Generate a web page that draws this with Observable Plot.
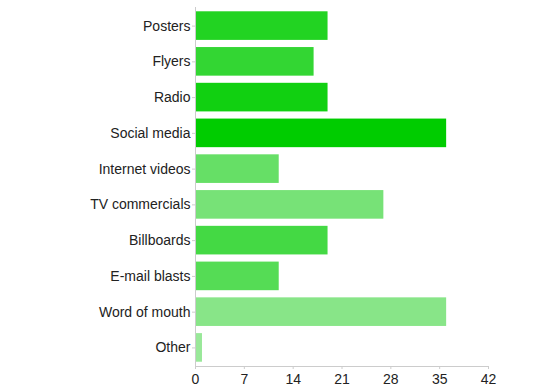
<!DOCTYPE html>
<html>
<head>
<meta charset="utf-8">
<script src="https://cdn.jsdelivr.net/npm/d3@7"></script>
<script src="https://cdn.jsdelivr.net/npm/@observablehq/plot@0.6"></script>
<style>
  html, body { margin: 0; padding: 0; background: #fff; }
  #chart svg { display: block; }
</style>
</head>
<body>
<div id="chart"></div>
<script>
const categories = ["Posters", "Flyers", "Radio", "Social media", "Internet videos", "TV commercials", "Billboards", "E-mail blasts", "Word of mouth", "Other"];
const counts = [19, 17, 19, 36, 12, 27, 19, 12, 36, 1];
const barColors = ["#22d322", "#33d633", "#11d011", "#00cc00", "#66df66", "#77e277", "#44d944", "#55dc55", "#88e588", "#99e899"];
const xTicks = [0, 7, 14, 21, 28, 35, 42];

const data = categories.map((c, i) => ({category: c, count: counts[i], color: barColors[i]}));

const chart = Plot.plot({
  width: 541,
  height: 392,
  marginLeft: 195,
  marginRight: 53,
  marginTop: 7,
  marginBottom: 26,
  style: {fontFamily: "'Liberation Sans', Arial, sans-serif", fontSize: "14px", color: "#222", background: "#fff"},
  x: {domain: [0, 42], ticks: xTicks, label: null},
  y: {domain: categories, label: null, paddingInner: 0.2, paddingOuter: 0.12, round: false},
  color: {type: "identity"},
  marks: [
    Plot.barX(data, {x: "count", y: "category", fill: "color"}),
    Plot.ruleX([0], {stroke: "#cccccc"}),
    Plot.frame({anchor: "bottom", stroke: "#cccccc"}),
    Plot.axisX({ticks: xTicks, tickSize: 3, tickPadding: 5, stroke: "#cccccc", fill: "#222", fontSize: 14, label: null}),
    Plot.axisY({tickSize: 3, tickPadding: 2, stroke: "#cccccc", fill: "#222", fontSize: 14, label: null})
  ]
});
document.getElementById("chart").appendChild(chart);
</script>
</body>
</html>
